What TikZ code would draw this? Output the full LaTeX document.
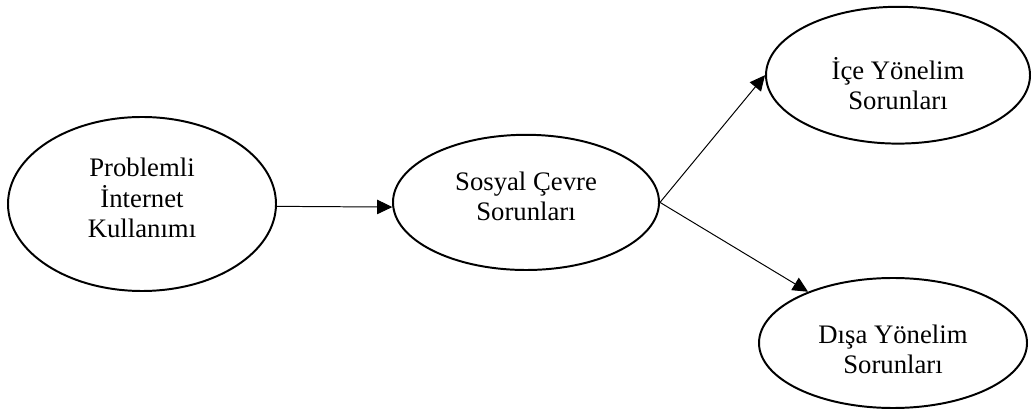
\documentclass[tikz,border=0pt]{standalone}
\usepackage{fontspec}
\setmainfont{Liberation Serif}
\usetikzlibrary{arrows.meta}
\usetikzlibrary{shapes.geometric}

\begin{document}
\begin{tikzpicture}[every node/.style={draw, ellipse, line width=1.4pt, inner sep=0pt, align=center, font=\fontsize{19}{21.5}\selectfont},
                    txt/.style={draw=none, rectangle},
                    arr/.style={-{Triangle[length=3.8mm, width=3.6mm]}, line width=0.7pt}]
          \useasboundingbox (0,0) rectangle (25.9,10.25);

          % Left ellipse
          \node (P)[minimum width=6.7cm, minimum height=4.35cm,
                    label={[txt, yshift=1.5mm]center:{Problemli\\İnternet\\Kullanımı}}] at (3.55, 5.15) {};

          % Middle ellipse
          \node (S)[minimum width=6.65cm, minimum height=3.38cm,
                    label={[txt, yshift=1.6mm]center:{Sosyal Çevre\\Sorunları}}] at (13.15, 5.19) {};

          % Right ellipses
          \node (I)[minimum width=6.6cm, minimum height=3.42cm,
                    label={[txt, yshift=-2.2mm]center:{İçe Yönelim\\Sorunları}}] at (22.45, 8.37) {};
          \node (D)[minimum width=6.7cm, minimum height=3.25cm,
                    label={[txt, yshift=-1.5mm]center:{Dışa Yönelim\\Sorunları}}] at (22.325, 1.675) {};

          % Arrows
          \draw[arr] (P.359) -- (S.182);
          \draw[arr] (S.east) -- (I.west);
          \draw[arr] (S.east) -- (D);
\end{tikzpicture}
\end{document}
